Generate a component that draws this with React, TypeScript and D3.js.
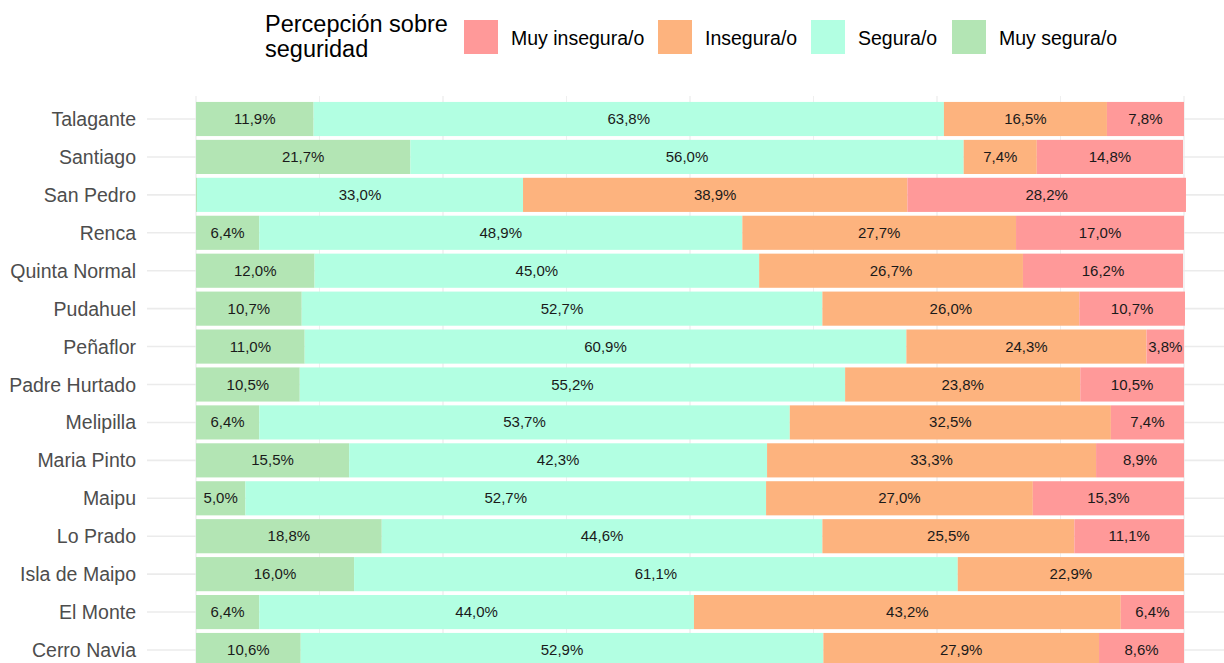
import React from "react";
import * as d3 from "d3";

const comunas = [
  "Talagante", "Santiago", "San Pedro", "Renca", "Quinta Normal", "Pudahuel",
  "Peñaflor", "Padre Hurtado", "Melipilla", "Maria Pinto", "Maipu", "Lo Prado",
  "Isla de Maipo", "El Monte", "Cerro Navia",
];
const muySegura = [11.9, 21.7, 0.1, 6.4, 12.0, 10.7, 11.0, 10.5, 6.4, 15.5, 5.0, 18.8, 16.0, 6.4, 10.6];
const segura = [63.8, 56.0, 33.0, 48.9, 45.0, 52.7, 60.9, 55.2, 53.7, 42.3, 52.7, 44.6, 61.1, 44.0, 52.9];
const insegura = [16.5, 7.4, 38.9, 27.7, 26.7, 26.0, 24.3, 23.8, 32.5, 33.3, 27.0, 25.5, 22.9, 43.2, 27.9];
const muyInsegura = [7.8, 14.8, 28.2, 17.0, 16.2, 10.7, 3.8, 10.5, 7.4, 8.9, 15.3, 11.1, 0, 6.4, 8.6];

const legendTitle = ["Percepción sobre", "seguridad"];
const legendLabels = ["Muy insegura/o", "Insegura/o", "Segura/o", "Muy segura/o"];
const legendColors = ["#FF9999", "#FDB37E", "#B2FFE2", "#B3E5B4"];
const xBreaks = [0, 12.5, 25, 37.5, 50, 62.5, 75, 87.5, 100];

// stacking order left to right
const stackSeries = [
  { key: "ms", values: muySegura, color: legendColors[3] },
  { key: "s", values: segura, color: legendColors[2] },
  { key: "i", values: insegura, color: legendColors[1] },
  { key: "mi", values: muyInsegura, color: legendColors[0] },
];

const W = 1224;
const H = 663;
const FONT = "'Liberation Sans', Arial, Helvetica, sans-serif";

export default function App() {
  const x = d3.scaleLinear().domain([0, 100]).range([196, 1184]);
  const y = d3.scalePoint<string>().domain(comunas).range([119, 650]);
  const step = y.step();
  const barH = step * 0.9;
  const panelLeft = 147;
  const panelTop = 96;

  const rows = comunas.map((c, i) => {
    let acc = 0;
    const segs = stackSeries.map((s) => {
      const v = s.values[i];
      const seg = { x0: acc, x1: acc + v, v, color: s.color, key: s.key };
      acc += v;
      return seg;
    });
    return { c, segs };
  });

  const fmt = (v: number) => v.toFixed(1).replace(".", ",") + "%";

  const legendKeyX = [464, 658, 811, 952];

  return (
    <svg
      width={W}
      height={H}
      style={{ position: "fixed", left: 0, top: 0, background: "#fff", fontFamily: FONT }}
    >
      {/* gridlines */}
      {xBreaks.map((b) => (
        <line
          key={"vx" + b}
          x1={x(b)}
          x2={x(b)}
          y1={panelTop}
          y2={H}
          stroke="#EBEBEB"
          strokeWidth={b % 25 === 0 ? 1.2 : 0.8}
        />
      ))}
      {comunas.map((c) => (
        <line
          key={"hy" + c}
          x1={panelLeft}
          x2={W}
          y1={y(c)}
          y2={y(c)}
          stroke="#EBEBEB"
          strokeWidth={1.6}
        />
      ))}

      {/* bars */}
      {rows.map((r) => (
        <g key={r.c}>
          {r.segs
            .filter((s) => s.v > 0)
            .map((s) => (
              <rect
                key={s.key}
                x={x(s.x0)}
                y={(y(r.c) as number) - barH / 2}
                width={x(s.x1) - x(s.x0)}
                height={barH}
                fill={s.color}
              />
            ))}
          {r.segs
            .filter((s) => s.v >= 1)
            .map((s) => (
              <text
                key={"t" + s.key}
                x={(x(s.x0) + x(s.x1)) / 2}
                y={(y(r.c) as number) + 5}
                textAnchor="middle"
                fontSize={15}
                fill="#1A1A1A"
              >
                {fmt(s.v)}
              </text>
            ))}
        </g>
      ))}

      {/* y axis labels */}
      {comunas.map((c) => (
        <text
          key={"yl" + c}
          x={136}
          y={(y(c) as number) + 7}
          textAnchor="end"
          fontSize={19.5}
          fill="#4D4D4D"
        >
          {c}
        </text>
      ))}

      {/* legend */}
      {legendTitle.map((t, i) => (
        <text key={"lt" + i} x={265} y={32 + i * 25} fontSize={23.5} fill="#000">
          {t}
        </text>
      ))}
      {legendLabels.map((l, i) => (
        <g key={"lg" + l}>
          <rect x={legendKeyX[i]} y={20} width={34} height={34} fill={legendColors[i]} />
          <text x={legendKeyX[i] + 47} y={45} fontSize={19.5} fill="#000">
            {l}
          </text>
        </g>
      ))}
    </svg>
  );
}
